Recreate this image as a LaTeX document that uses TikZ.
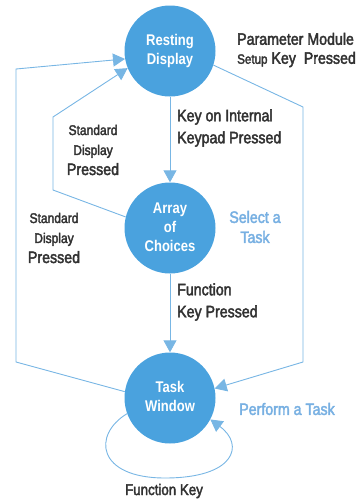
\documentclass[tikz,border=0pt]{standalone}
\usepackage{fontspec}
\setmainfont{Liberation Sans}[FakeStretch=0.88]
\newfontfamily\lblfont{Liberation Sans}[FakeStretch=0.86,FakeBold=2.5]
\newfontfamily\circfont{Liberation Sans Bold}[FakeStretch=0.84]
\usetikzlibrary{arrows.meta}
\definecolor{cfill}{RGB}{74,162,222}
\definecolor{cline}{RGB}{120,182,228}
\definecolor{ctext}{RGB}{50,50,50}
\definecolor{cblue}{RGB}{120,176,226}
\begin{document}
\begin{tikzpicture}[x=1pt,y=-1pt,
  state/.style={circle,fill=cfill,minimum size=91pt,inner sep=0pt,text=white,
    font=\circfont\fontsize{15.5}{21}\selectfont,align=center},
  conn/.style={draw=cline,line width=0.9pt},
  arr/.style={conn,-{Triangle[width=13pt,length=12pt]}},
  lbl/.style={text=ctext,font=\lblfont\fontsize{16.5}{22}\selectfont,inner sep=0pt},
  slbl/.style={text=ctext,font=\lblfont\fontsize{14}{20}\selectfont,inner sep=0pt,align=center},
  blbl/.style={lbl,text=cblue}
]
\useasboundingbox (0,0) rectangle (364,501);
\node[state] (rd) at (170,51) {\raisebox{-4pt}{\begin{tabular}{@{}c@{}}Resting\\[-2pt]Display\end{tabular}}};
\node[state] (ar) at (170,228) {\raisebox{-2pt}{\begin{tabular}{@{}c@{}}Array\\[-2pt]of\\[-2pt]Choices\end{tabular}}};
\node[state] (tw) at (170,398) {\raisebox{-4pt}{\begin{tabular}{@{}c@{}}Task\\[-2pt]Window\end{tabular}}};

\coordinate (o1) at (16,362);
\coordinate (o2) at (16,69);
\coordinate (i1) at (53,190);
\coordinate (i2) at (53,117);
\coordinate (r1) at (303,107);
\coordinate (r2) at (303,362);

\draw[arr] (rd) -- (ar);
\draw[arr] (ar) -- (tw);
\draw[arr] (tw.172) -- (o1) -- (o2) -- (rd.190);
\draw[arr] (ar.166) -- (i1) -- (i2) -- (rd.202);
\draw[arr] (rd.-18) -- (r1) -- (r2) -- (tw.12);
\draw[arr] (tw.200) .. controls (92,435) and (97,478) .. (165,478)
  .. controls (235,478) and (245,445) .. (tw.-28);

\node[lbl,anchor=west,align=left] (pm) at (237,50)
  {Parameter Module\\[-3pt]{\fontsize{13.5}{22}\selectfont Setup} Key\ \ Pressed};
\node[lbl,anchor=west,align=left] (ki) at (177,128) {Key on Internal\\Keypad Pressed};
\node[slbl] (sd1) at (93,150) {Standard\\Display\\{\fontsize{16.5}{20}\selectfont Pressed}};
\node[slbl] (sd2) at (54,238) {Standard\\Display\\{\fontsize{16.5}{20}\selectfont Pressed}};
\node[blbl,align=center] (st) at (255,227) {Select a\\[-2pt]Task};
\node[lbl,anchor=west,align=left] (fk) at (177,302) {Function\\Key Pressed};
\node[blbl] (pt) at (287,409) {Perform a Task};
\node[lbl,font=\lblfont\fontsize{15.5}{20}\selectfont] (fk2) at (164,491) {Function Key};
\end{tikzpicture}
\end{document}
